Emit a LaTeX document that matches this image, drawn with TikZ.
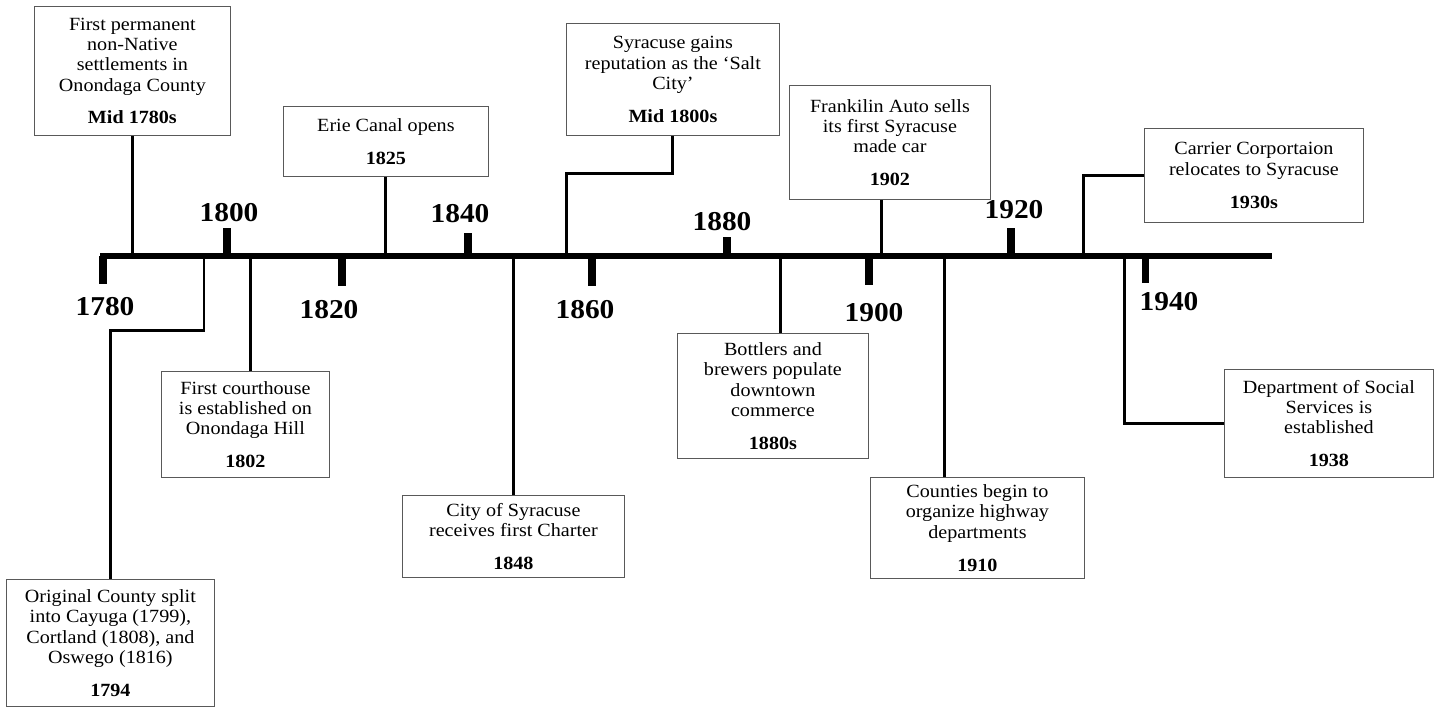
\documentclass[tikz,border=0pt]{standalone}
\usepackage{fontspec}
\setmainfont[FakeStretch=1.08]{Liberation Serif}

\tikzset{
  event/.style={draw=black!65, line width=0.5pt, anchor=north west, align=center,
    font=\fontsize{10.6}{11.6}\selectfont},
  yearlbl/.style={font=\fontsize{15.5}{18}\selectfont\bfseries},
  timeline/.style={line width=3.4pt},
  yeartick/.style={line width=4pt},
  link/.style={line width=1.7pt}
}

\begin{document}
\begin{tikzpicture}[x=0.02cm, y=-0.02cm]
\useasboundingbox (0,0) rectangle (1440,708);

% the time axis
\coordinate (axL) at (100,256);
\coordinate (axR) at (1272,256);
\draw[timeline] (axL) -- (axR);
\foreach \yr/\tx/\ty/\lx/\ly in {1780/103/284/105/307, 1800/227/228/229/213,
    1820/342/286/329/310, 1840/468/233/460/214, 1860/592/286/585/310,
    1880/727/237/722/222, 1900/869/285/874/313, 1920/1011/228/1014/210,
    1940/1145/283/1169/302}{
  \draw[yeartick] (\tx,256) -- (\tx,\ty);
  \node[yearlbl] (y\yr) at (\lx,\ly) {\yr};
}

% events above the axis
\node[event, minimum width=3.92cm, minimum height=2.58cm] (settle) at (34,6)
  {First permanent\\non-Native\\settlements in\\Onondaga County\\[7pt]\textbf{Mid 1780s}};
\node[event, minimum width=4.10cm, minimum height=1.40cm] (erie) at (283,106)
  {Erie Canal opens\\[7pt]\textbf{1825}};
\node[event, minimum width=4.26cm, minimum height=2.24cm] (salt) at (566,23)
  {Syracuse gains\\reputation as the `Salt\\City'\\[7pt]\textbf{Mid 1800s}};
\node[event, minimum width=4.02cm, minimum height=2.28cm] (auto) at (789,85)
  {Frankilin Auto sells\\its first Syracuse\\made car\\[7pt]\textbf{1902}};
\node[event, minimum width=4.38cm, minimum height=1.88cm] (carrier) at (1144,128)
  {Carrier Corportaion\\relocates to Syracuse\\[7pt]\textbf{1930s}};

% events below the axis
\node[event, minimum width=4.16cm, minimum height=2.54cm] (split) at (6,579)
  {Original County split\\into Cayuga (1799),\\Cortland (1808), and\\Oswego (1816)\\[7pt]\textbf{1794}};
\node[event, minimum width=3.36cm, minimum height=2.12cm] (court) at (161,371)
  {First courthouse\\is established on\\Onondaga Hill\\[7pt]\textbf{1802}};
\node[event, minimum width=4.44cm, minimum height=1.64cm] (charter) at (402,495)
  {City of Syracuse\\receives first Charter\\[7pt]\textbf{1848}};
\node[event, minimum width=3.82cm, minimum height=2.50cm] (bottlers) at (677,333)
  {Bottlers and\\brewers populate\\downtown\\commerce\\[7pt]\textbf{1880s}};
\node[event, minimum width=4.28cm, minimum height=2.02cm] (highway) at (870,477)
  {Counties begin to\\organize highway\\departments\\[7pt]\textbf{1910}};
\node[event, minimum width=4.18cm, minimum height=2.16cm] (dss) at (1224,369)
  {Department of Social\\Services is\\established\\[7pt]\textbf{1938}};

% links to the axis
\coordinate (k5) at (1083,256);
\coordinate (k6) at (204,256);
\coordinate (k11) at (1124,256);
\draw[link] (settle.south) -- (settle.south |- axL);
\draw[link] (erie.south) -- (erie.south |- axL);
\draw[link] (salt.south) -- ++(0,38) -| (salt.south west |- axL);
\draw[link] ([xshift=-0.16cm]auto.south) -- ([xshift=-0.16cm]auto.south |- axL);
\draw[link] (carrier.west) -| (k5);
\draw[link] (k6) -- ++(0,74) -| (split.north);
\draw[link] ([xshift=0.1cm]court.north) -- ([xshift=0.1cm]court.north |- axL);
\draw[link] (charter.north) -- (charter.north |- axL);
\draw[link] ([xshift=0.15cm]bottlers.north) -- ([xshift=0.15cm]bottlers.north |- axL);
\draw[link] ([xshift=-0.66cm]highway.north) -- ([xshift=-0.66cm]highway.north |- axL);
\draw[link] (k11) |- (dss.west);
\end{tikzpicture}
\end{document}
